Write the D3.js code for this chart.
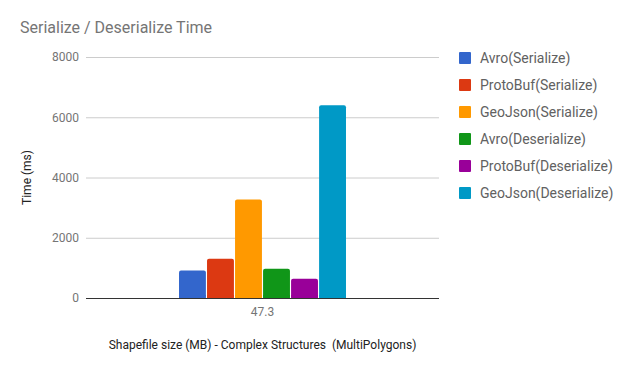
<!DOCTYPE html>
<html>
<head>
<meta charset="utf-8">
<script src="https://cdn.jsdelivr.net/npm/d3@7"></script>
<style>
  body { margin: 0; background: #fff; }
  text { font-family: Roboto, sans-serif; }
</style>
</head>
<body>
<div id="chart"></div>
<script>
// Serialize / Deserialize Time chart

const categories = ["47.3"];
const seriesNames = ["Avro(Serialize)", "ProtoBuf(Serialize)", "GeoJson(Serialize)",
                     "Avro(Deserialize)", "ProtoBuf(Deserialize)", "GeoJson(Deserialize)"];
const seriesValues = [910, 1300, 3270, 970, 640, 6400];
const seriesColors = ["#3366cc", "#dc3912", "#ff9900", "#109618", "#990099", "#0099c6"];
const yTicks = [0, 2000, 4000, 6000, 8000];

const width = 631, height = 371;
const margin = { top: 57, right: 192, bottom: 73, left: 86 };

const svg = d3.select("#chart").append("svg")
    .attr("width", width)
    .attr("height", height);

const x = d3.scaleBand()
    .domain(categories)
    .range([margin.left, width - margin.right])
    .paddingInner(0)
    .paddingOuter(0.557);

const xInner = d3.scaleBand()
    .domain(seriesNames)
    .range([0, x.bandwidth()])
    .paddingInner(0.04);

const y = d3.scaleLinear()
    .domain([0, 8000])
    .range([height - margin.bottom, margin.top]);

// Title
svg.append("text")
    .attr("x", 20)
    .attr("y", 33)
    .attr("font-size", 16)
    .attr("fill", "#757575")
    .text("Serialize / Deserialize Time");

// Gridlines + tick labels
const yAxis = svg.append("g")
    .attr("transform", `translate(${margin.left},0)`)
    .call(d3.axisLeft(y).tickValues(yTicks).tickSize(-(width - margin.left - margin.right)).tickPadding(7).tickFormat(d3.format("d")));
yAxis.select(".domain").remove();
yAxis.selectAll(".tick line").attr("stroke", "#cccccc");
yAxis.selectAll(".tick text")
    .attr("font-size", 12)
    .attr("fill", "#757575")
    .style("font-family", "Roboto, sans-serif");

// Bars
const groups = svg.append("g").selectAll("g")
    .data(categories)
    .join("g")
    .attr("transform", d => `translate(${x(d)},0)`);

const barData = () => seriesNames.map((s, i) => ({ s, v: seriesValues[i], c: seriesColors[i] }));

groups.selectAll("rect.bar")
    .data(barData)
    .join("rect")
    .attr("class", "bar")
    .attr("x", d => xInner(d.s))
    .attr("y", d => y(d.v))
    .attr("width", xInner.bandwidth())
    .attr("height", d => y(0) - y(d.v))
    .attr("rx", 2)
    .attr("fill", d => d.c);

// Cover the rounded bottom corners
groups.selectAll("rect.base")
    .data(barData)
    .join("rect")
    .attr("class", "base")
    .attr("x", d => xInner(d.s))
    .attr("y", y(0) - 3)
    .attr("width", xInner.bandwidth())
    .attr("height", 3)
    .attr("fill", d => d.c);

// Baseline
svg.append("line")
    .attr("x1", margin.left).attr("x2", width - margin.right)
    .attr("y1", y(0) + 0.5).attr("y2", y(0) + 0.5)
    .attr("stroke", "#333333");

// X tick labels
svg.append("g").selectAll("text")
    .data(categories)
    .join("text")
    .attr("x", d => x(d) + x.bandwidth() / 2)
    .attr("y", y(0) + 18)
    .attr("text-anchor", "middle")
    .attr("font-size", 12)
    .attr("fill", "#757575")
    .text(d => d);

// Axis titles
svg.append("text")
    .attr("x", (margin.left + width - margin.right) / 2)
    .attr("y", 349)
    .attr("text-anchor", "middle")
    .attr("font-size", 12)
    .attr("fill", "#222222")
    .attr("xml:space", "preserve")
    .style("white-space", "pre")
    .text("Shapefile size (MB) - Complex Structures  (MultiPolygons)");

svg.append("text")
    .attr("transform", `translate(31,${(margin.top + height - margin.bottom) / 2}) rotate(-90)`)
    .attr("text-anchor", "middle")
    .attr("font-size", 12)
    .attr("fill", "#222222")
    .text("Time (ms)");

// Legend
const legend = svg.append("g").selectAll("g")
    .data(seriesNames)
    .join("g")
    .attr("transform", (d, i) => `translate(459,${52 + i * 27})`);

legend.append("rect")
    .attr("width", 12).attr("height", 12).attr("rx", 1)
    .attr("fill", (d, i) => seriesColors[i]);

legend.append("text")
    .attr("x", 21)
    .attr("y", 11)
    .attr("font-size", 14)
    .attr("fill", "#616161")
    .text(d => d);
</script>
</body>
</html>
